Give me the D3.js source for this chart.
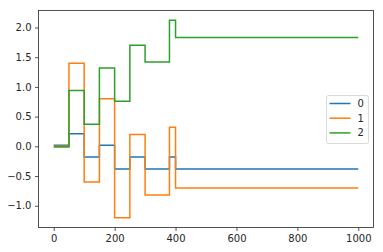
<!DOCTYPE html>
<html>
<head>
<meta charset="utf-8">
<script src="https://cdn.jsdelivr.net/npm/d3@7"></script>
<style>
  body { margin: 0; background: #fff; }
  svg { display: block; font-family: "DejaVu Sans", sans-serif; }
</style>
</head>
<body>
<div class="canvas"></div>
<script>
// step positions (x) and the three series
const xs = [0, 50, 100, 150, 200, 250, 300, 380, 400, 1000];
const s0 = [0.02, 0.21, -0.18, 0.02, -0.38, -0.18, -0.38, -0.18, -0.38, -0.38];
const s1 = [0.00, 1.40, -0.60, 0.80, -1.20, 0.20, -0.82, 0.32, -0.70, -0.70];
const s2 = [-0.01, 0.94, 0.37, 1.32, 0.76, 1.70, 1.42, 2.12, 1.83, 1.83];
const names = ['0', '1', '2'];
const xTicks = [0, 200, 400, 600, 800, 1000];
const yTicks = [-1.0, -0.5, 0.0, 0.5, 1.0, 1.5, 2.0];

const dims = { width: 383, height: 252 };
const m = { left: 38.5, right: 373.5, top: 10.5, bottom: 227.5 };

const svg = d3.select('.canvas')
    .append('svg')
    .attr('width', dims.width)
    .attr('height', dims.height);

const series = [s0, s1, s2].map((vals, i) => ({
    name: names[i],
    values: xs.map((x, j) => ({ x: x, y: vals[j] }))
}));

const colour = d3.scaleOrdinal()
    .domain(names)
    .range(['#1f77b4', '#ff7f0e', '#2ca02c']);

// matplotlib style 5% margins
const xMin = d3.min(xs), xMax = d3.max(xs);
const allY = [...s0, ...s1, ...s2];
const yMin = d3.min(allY), yMax = d3.max(allY);
const xPad = (xMax - xMin) * 0.05, yPad = (yMax - yMin) * 0.05;

const x = d3.scaleLinear().domain([xMin - xPad, xMax + xPad]).range([m.left, m.right]);
const y = d3.scaleLinear().domain([yMin - yPad, yMax + yPad]).range([m.bottom, m.top]);

const line = d3.line()
    .x(d => x(d.x))
    .y(d => y(d.y))
    .curve(d3.curveStepAfter);

svg.append('g')
    .selectAll('path')
    .data(series)
    .enter()
    .append('path')
    .attr('d', d => line(d.values))
    .attr('fill', 'none')
    .attr('stroke', d => colour(d.name))
    .attr('stroke-width', 1.5);

// axes
const fmt = d3.format('.1f');
const xAxis = svg.append('g')
    .attr('transform', `translate(0, ${m.bottom})`)
    .call(d3.axisBottom(x).tickValues(xTicks).tickSize(3.5).tickPadding(3.5)
        .tickFormat(d3.format('d')));
const yAxis = svg.append('g')
    .attr('transform', `translate(${m.left}, 0)`)
    .call(d3.axisLeft(y).tickValues(yTicks).tickSize(3.5).tickPadding(3.5)
        .tickFormat(d => fmt(d).replace('-', '\u2212')));

[xAxis, yAxis].forEach(a => {
    a.select('.domain').remove();
    a.selectAll('text').attr('font-size', 10).attr('fill', '#262626')
        .attr('font-family', '"DejaVu Sans", sans-serif');
    a.selectAll('line').attr('stroke', '#262626').attr('stroke-width', 0.8);
});

svg.append('rect')
    .attr('x', m.left).attr('y', m.top)
    .attr('width', m.right - m.left).attr('height', m.bottom - m.top)
    .attr('fill', 'none').attr('stroke', '#262626').attr('stroke-width', 0.8);

// legend
const leg = svg.append('g').attr('transform', 'translate(326.5, 95.5)');
leg.append('rect')
    .attr('width', 42).attr('height', 48).attr('rx', 2)
    .attr('fill', '#fff').attr('fill-opacity', 0.8)
    .attr('stroke', '#d0d0d0').attr('stroke-width', 0.8);

const items = leg.selectAll('g.item')
    .data(names)
    .enter()
    .append('g')
    .attr('class', 'item')
    .attr('transform', (d, i) => `translate(0, ${8 + i * 14.7})`);

items.append('line')
    .attr('x1', 3).attr('x2', 24)
    .attr('stroke', d => colour(d)).attr('stroke-width', 1.5);

items.append('text')
    .attr('x', 31).attr('dy', '0.35em')
    .attr('font-size', 10).attr('fill', '#262626')
    .text(d => d);
</script>
</body>
</html>
